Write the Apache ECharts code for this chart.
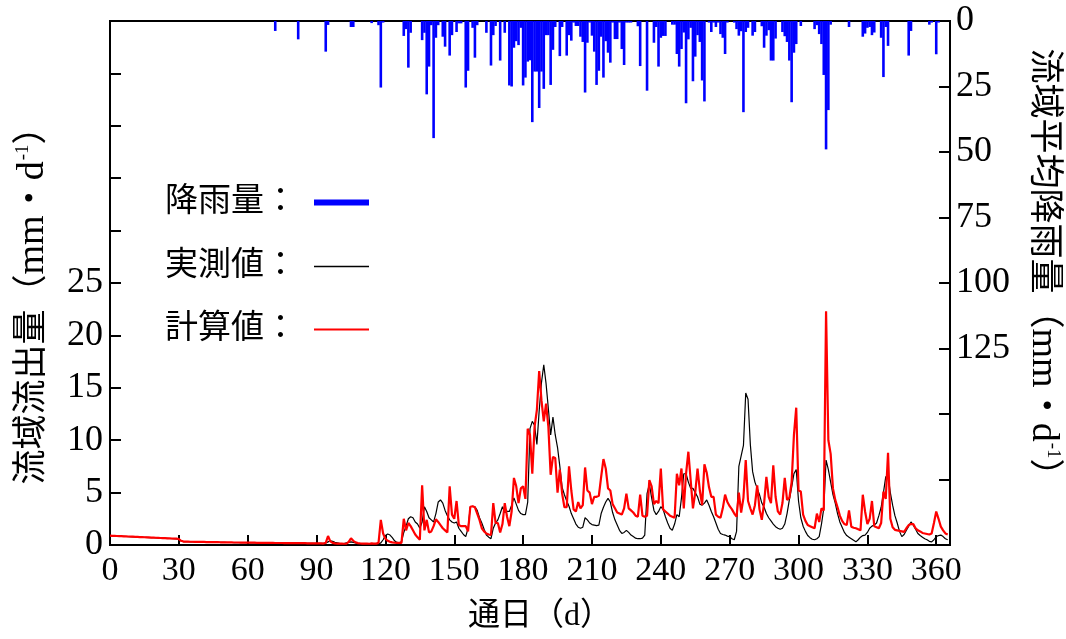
<!DOCTYPE html>
<html><head><meta charset="utf-8">
<script src="https://cdn.jsdelivr.net/npm/echarts@6/dist/echarts.min.js"></script>
<style>html,body{margin:0;padding:0;background:#fff}#c{width:1066px;height:639px}</style>
</head><body><div id="c"></div>
<script>
// x-axis tick labels (day of year)
const xTickLabels = [0,30,60,90,120,150,180,210,240,270,300,330,360];
// left axis labelled ticks (flow), right axis labelled ticks (rain)
const flowTickLabels = [0,5,10,15,20,25];
const rainTickLabels = [0,25,50,75,100,125];

// daily rainfall (mm/d): day numbers and values
const rainDays = [72,82,94,95,105,106,114,117,118,119,128,129,130,131,136,137,138,139,140,141,142,143,145,146,148,149,151,152,153,155,156,158,159,160,164,166,167,168,170,172,174,175,176,177,178,179,180,181,182,183,184,185,186,187,188,189,190,191,192,193,194,196,197,199,200,201,202,203,204,205,206,207,208,209,210,211,212,213,214,215,216,217,218,219,220,221,222,223,224,225,226,227,230,231,234,237,238,239,240,241,242,245,246,247,248,249,250,251,252,253,254,255,256,257,258,259,261,262,263,264,265,266,267,268,269,272,273,274,275,276,277,278,280,281,284,285,286,287,288,289,290,293,294,295,296,297,298,299,301,307,308,309,310,311,312,313,314,322,328,329,330,331,332,333,336,337,338,339,348,349,357,358,360,361];
const rainValues = [3.8,7.0,11.7,1.5,2.3,2.3,0.8,1.6,25.4,0.6,5.7,3.1,17.8,4.5,7.3,4.5,28.0,17.4,1.6,44.7,6.4,1.6,6.0,9.8,13.2,5.4,4.2,0.9,0.9,25.4,19.0,2.6,14.0,1.6,4.5,17.0,5.4,1.9,15.1,4.5,24.6,25.0,10.2,7.7,9.2,2.6,24.6,21.6,15.5,15.0,38.6,19.3,19.3,33.2,19.3,25.9,5.4,5.4,24.4,11.0,2.3,13.4,2.3,13.2,5.4,7.5,0.6,1.9,1.9,6.0,8.0,27.3,8.3,0.6,5.6,11.7,24.4,19.0,6.0,21.6,7.7,12.1,15.9,0.6,6.9,6.9,0.6,10.7,16.8,0.6,0.6,0.6,2.0,17.2,26.6,8.3,2.3,17.4,6.4,5.7,5.7,1.4,1.4,12.6,17.4,10.7,4.4,31.4,7.0,2.6,23.0,13.6,5.4,8.0,22.7,30.7,0.6,4.2,0.6,2.3,0.6,5.0,6.4,12.6,0.6,0.6,3.1,5.6,3.9,34.8,4.2,2.6,5.6,4.2,2.0,10.2,5.6,3.5,15.1,15.1,6.7,4.2,5.8,8.0,15.1,31.0,12.1,8.8,1.9,3.1,1.6,5.0,8.8,20.6,49.0,34.0,1.4,2.3,6.0,4.8,2.6,2.3,5.4,4.4,6.4,21.4,2.3,9.5,13.2,3.8,1.4,0.6,12.7,0.6];

// observed daily runoff (mm/d), day 0..365
const observed = [
0.88,0.87,0.86,0.85,0.84,0.83,0.82,0.81,0.80,0.79,
0.78,0.77,0.76,0.75,0.74,0.73,0.72,0.71,0.70,0.69,
0.68,0.67,0.66,0.65,0.64,0.63,0.62,0.61,0.60,0.59,
0.56,0.39,0.32,0.31,0.31,0.30,0.30,0.29,0.29,0.29,
0.28,0.28,0.27,0.27,0.27,0.26,0.26,0.26,0.25,0.25,
0.25,0.24,0.24,0.24,0.23,0.23,0.23,0.22,0.22,0.22,
0.21,0.21,0.21,0.21,0.20,0.20,0.20,0.20,0.19,0.19,
0.19,0.19,0.18,0.18,0.18,0.18,0.17,0.17,0.17,0.17,
0.17,0.16,0.16,0.16,0.16,0.16,0.15,0.15,0.15,0.15,
0.15,0.15,0.15,0.15,0.20,0.30,0.40,0.35,0.25,0.20,
0.15,0.14,0.13,0.20,0.25,0.30,0.25,0.20,0.15,0.12,
0.10,0.10,0.10,0.10,0.10,0.10,0.10,0.10,0.20,0.50,
0.90,1.05,0.95,0.70,0.40,0.25,0.20,0.30,1.20,1.80,
2.50,2.70,2.60,2.20,2.00,1.60,2.20,3.65,3.20,2.60,
2.40,2.20,3.00,4.10,4.30,4.00,3.30,2.80,2.40,2.20,
2.10,2.20,1.60,1.30,1.00,0.80,1.60,3.65,3.70,3.65,
3.30,2.60,2.10,1.50,0.95,0.75,0.60,1.60,2.10,2.40,
3.00,3.65,3.10,3.20,3.20,3.80,4.50,3.90,3.30,3.00,
2.90,2.90,4.10,11.1,11.8,11.4,9.60,12.8,15.5,17.2,
15.4,13.0,10.5,12.2,10.5,9.30,7.50,5.50,4.80,4.20,
3.70,3.00,2.50,2.00,1.70,1.60,1.70,2.60,2.40,2.10,
1.95,1.90,1.85,1.90,3.00,3.60,4.10,4.45,4.10,3.10,
2.40,1.90,1.40,1.10,1.20,1.40,1.20,0.95,0.80,0.65,
0.60,0.60,0.65,0.95,4.90,5.80,4.50,3.30,2.90,3.20,
3.65,3.40,2.70,2.10,1.60,1.40,2.00,2.90,2.70,4.50,
6.80,6.80,6.00,5.40,5.40,5.00,4.60,3.90,3.80,4.00,
4.30,3.80,3.20,2.70,2.10,1.50,1.10,1.00,0.95,0.85,
0.80,0.60,0.50,1.30,7.50,8.50,9.50,14.5,13.9,9.60,
7.00,6.00,5.40,4.80,4.00,3.60,3.00,2.60,2.30,2.00,
1.75,1.60,1.50,1.60,2.00,3.00,4.30,5.50,6.80,7.20,
4.20,2.60,1.80,1.30,0.90,0.70,0.55,0.50,0.60,0.80,
2.00,3.50,8.10,7.20,6.00,4.80,4.00,3.00,2.20,1.70,
1.20,0.90,0.75,0.60,0.45,0.30,0.50,0.75,0.90,0.95,
1.20,1.60,1.80,1.90,2.10,2.80,3.60,5.00,6.50,6.60,
5.00,3.80,2.80,2.10,1.30,0.80,1.00,1.40,1.80,2.20,
1.90,1.50,1.10,0.90,0.75,0.60,0.50,0.35,0.30,0.50,
0.80,0.90,0.95,0.80,0.60,0.50];

// computed daily runoff (mm/d), day 0..365
const computed = [
0.89,0.88,0.87,0.86,0.85,0.84,0.83,0.82,0.81,0.80,
0.79,0.78,0.77,0.76,0.75,0.74,0.73,0.72,0.71,0.70,
0.69,0.68,0.67,0.66,0.65,0.64,0.63,0.62,0.61,0.60,
0.57,0.40,0.33,0.32,0.32,0.31,0.31,0.30,0.30,0.30,
0.29,0.29,0.28,0.28,0.28,0.27,0.27,0.27,0.26,0.26,
0.26,0.25,0.25,0.25,0.24,0.24,0.24,0.23,0.23,0.23,
0.22,0.22,0.22,0.22,0.21,0.21,0.21,0.21,0.20,0.20,
0.20,0.20,0.19,0.19,0.19,0.19,0.18,0.18,0.18,0.18,
0.18,0.17,0.17,0.17,0.17,0.17,0.16,0.16,0.16,0.16,
0.16,0.15,0.15,0.14,0.20,0.86,0.35,0.20,0.15,0.14,
0.13,0.13,0.12,0.12,0.30,0.64,0.40,0.25,0.18,0.15,
0.14,0.13,0.13,0.12,0.15,0.14,0.13,0.20,2.40,1.10,
0.60,0.40,0.30,0.25,0.22,0.20,0.20,0.20,2.50,1.40,
2.10,1.80,1.40,1.00,0.73,0.50,5.70,1.40,2.40,1.20,
1.30,1.80,2.45,2.20,1.90,1.60,1.40,1.20,5.60,2.90,
2.50,4.20,1.90,1.80,1.80,1.80,1.30,3.65,3.70,3.60,
3.00,2.40,1.60,1.30,1.10,1.00,0.95,4.00,2.10,2.10,
1.20,2.00,4.00,2.70,1.80,3.20,6.40,5.60,4.00,5.40,
5.60,4.40,11.1,10.5,6.80,11.3,12.9,16.6,13.8,11.8,
13.5,11.3,6.70,8.40,8.30,5.00,7.20,4.90,3.60,3.60,
7.50,5.20,3.40,3.20,4.10,3.50,3.80,7.40,5.20,5.00,
3.90,4.60,4.60,4.70,6.50,8.20,7.30,5.40,5.20,3.90,
3.50,3.10,3.00,2.90,3.50,4.90,3.50,3.30,3.10,2.80,
2.70,4.80,2.80,2.70,2.80,6.20,5.60,3.90,4.20,4.00,
7.30,3.40,3.20,3.00,2.80,2.70,2.60,6.80,5.70,7.30,
3.50,6.80,8.90,6.20,3.50,5.00,7.30,5.20,3.80,7.70,
6.90,5.50,4.60,4.60,2.90,2.70,2.60,3.50,4.80,4.10,
3.70,3.40,3.00,2.70,5.00,3.10,4.50,8.10,4.20,3.50,
2.90,3.80,5.70,3.40,2.40,4.00,6.50,4.60,4.00,7.60,
4.60,3.20,2.90,4.00,6.40,4.30,4.50,6.00,10.5,13.1,
5.20,5.10,2.90,2.30,1.90,1.80,1.70,1.60,3.00,2.20,
3.50,3.30,22.3,10.0,8.70,5.40,4.30,3.60,2.80,2.30,
2.00,1.90,3.30,1.75,1.65,1.60,1.50,1.40,4.80,3.20,
2.00,2.50,4.20,1.80,1.70,1.60,2.10,5.10,4.40,8.80,
2.50,1.70,1.45,1.40,1.35,1.30,1.25,1.60,1.90,2.00,
2.00,1.60,1.40,1.30,1.15,1.10,1.05,1.00,1.10,2.10,
3.20,2.50,1.75,1.40,1.10,1.00];

const seriesNames = ['降雨量','実測値','計算値'];
const FONT = '"Liberation Serif", "Noto Sans CJK JP", serif';
const CJK = '"Liberation Serif", "Noto Sans CJK JP", serif';

const nameRich = {
  t: {fontSize: 35, fontFamily: CJK, color: '#000'},
  m: {fontSize: 38, fontFamily: FONT, color: '#000'},
  s: {fontSize: 19, fontFamily: FONT, color: '#000', verticalAlign: 'top', padding: [0, 0, 16, 1]}
};

const chart = echarts.init(document.getElementById('c'), null, {renderer:'canvas'});
const legendText = {fontSize: 33, fontFamily: CJK, color: '#000', padding: [0, 12, 0, 0]};
chart.setOption({
  animation: false,
  backgroundColor: '#fff',
  grid: {left: 110, right: 116, top: 21, bottom: 94, outerBoundsMode: 'none', containLabel: false,
         show: true, borderColor: '#000', borderWidth: 2, backgroundColor: 'transparent'},
  legend: [
    {data: [seriesNames[0]], left: 160, top: 181, align: 'right', icon: 'rect', itemWidth: 55, itemHeight: 6,
     formatter: n => n + '：', textStyle: legendText, selectedMode: false},
    {data: [seriesNames[1]], left: 160, top: 245, align: 'right', icon: 'rect', itemWidth: 55, itemHeight: 1.5,
     formatter: n => n + '：', textStyle: legendText, selectedMode: false},
    {data: [seriesNames[2]], left: 160, top: 308, align: 'right', icon: 'rect', itemWidth: 55, itemHeight: 2.2,
     formatter: n => n + '：', textStyle: legendText, selectedMode: false}
  ],
  xAxis: {
    type: 'value', min: 0, max: 366, interval: 30,
    name: '通日（d）', nameLocation: 'middle', nameGap: 56,
    nameTextStyle: {fontSize: 32, fontFamily: CJK, color: '#000', padding: [0, 0, 0, 20]},
    axisLine: {lineStyle: {color: '#000', width: 2}},
    axisTick: {inside: true, length: 10, lineStyle: {color: '#000', width: 2}},
    axisLabel: {fontSize: 34, fontFamily: FONT, color: '#000', margin: 9,
      formatter: v => xTickLabels.indexOf(v) >= 0 ? String(v) : ''},
    splitLine: {show: false}
  },
  yAxis: [
    {
      type: 'value', min: 0, max: 50, interval: 5, position: 'left',
      name: '{t|流域流出量（}{m|mm}{t|・}{m|d}{s|-1}{t|）}', nameLocation: 'middle', nameRotate: 90, nameGap: 58,
      nameTextStyle: {color: '#000', padding: [0, 28, 0, 0], rich: nameRich},
      axisLine: {show: true, lineStyle: {color: '#000', width: 2}},
      axisTick: {show: true, inside: true, length: 11, lineStyle: {color: '#000', width: 2}},
      axisLabel: {fontSize: 36, fontFamily: FONT, color: '#000', margin: 7,
        formatter: v => flowTickLabels.indexOf(v) >= 0 ? String(v) : ''},
      splitLine: {show: false}
    },
    {
      type: 'value', min: 0, max: 200, interval: 25, position: 'right', inverse: true,
      name: '{t|流域平均降雨量（}{m|mm}{t|・}{m|d}{s|-1}{t|）}', nameLocation: 'middle', nameRotate: -90, nameGap: 74,
      nameTextStyle: {color: '#000', padding: [0, 24, 0, 0], rich: nameRich},
      axisLine: {show: true, lineStyle: {color: '#000', width: 2}},
      axisTick: {show: true, inside: true, length: 11, lineStyle: {color: '#000', width: 2}},
      axisLabel: {fontSize: 36, fontFamily: FONT, color: '#000', margin: 6,
        formatter: v => rainTickLabels.indexOf(v) >= 0 ? String(v) : ''},
      splitLine: {show: false}
    }
  ],
  series: [
    {name: seriesNames[0], type: 'bar', yAxisIndex: 1, barWidth: 2.6, color: '#0000ff',
     itemStyle: {color: '#0000ff'}, data: rainDays.map((d, i) => [d, rainValues[i]])},
    {name: seriesNames[1], type: 'line', yAxisIndex: 0, showSymbol: false, symbol: 'none', color: '#000',
     lineStyle: {color: '#000', width: 1.2}, data: observed.map((v, i) => [i, v]), z: 3},
    {name: seriesNames[2], type: 'line', yAxisIndex: 0, showSymbol: false, symbol: 'none', color: '#ff0000',
     lineStyle: {color: '#ff0000', width: 2.2}, data: computed.map((v, i) => [i, v]), z: 4}
  ]
});
</script>
</body></html>
